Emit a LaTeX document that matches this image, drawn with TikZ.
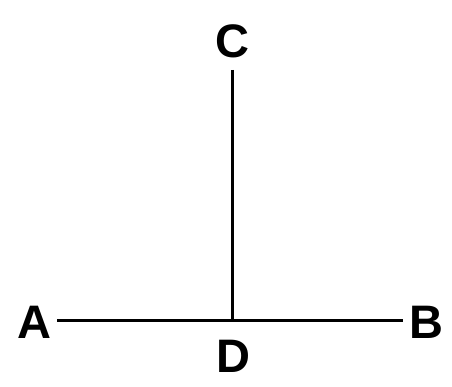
\documentclass[tikz,border=0pt]{standalone}
\usepackage{fontspec}
\setmainfont{Liberation Sans}
\usetikzlibrary{positioning}

\begin{document}
\begin{tikzpicture}[
  x=1pt, y=-1pt,
  letter/.style={font=\fontsize{47}{50}\selectfont\bfseries, inner sep=6pt},
  segment/.style={line width=3pt}
]
\useasboundingbox (0,0) rectangle (452,386);
\node[letter] (A) at (34,322) {A};
\node[letter] (B) at (426,322) {B};
\node[letter, inner sep=12pt] (C) at (232,41) {C};
\node[letter] (D) at (233,356) {D};
\coordinate (foot) at (232,320);
\draw[segment] (A.east |- foot) -- (B.west |- foot);
\draw[segment] (C.south) -- (foot);
\end{tikzpicture}
\end{document}
